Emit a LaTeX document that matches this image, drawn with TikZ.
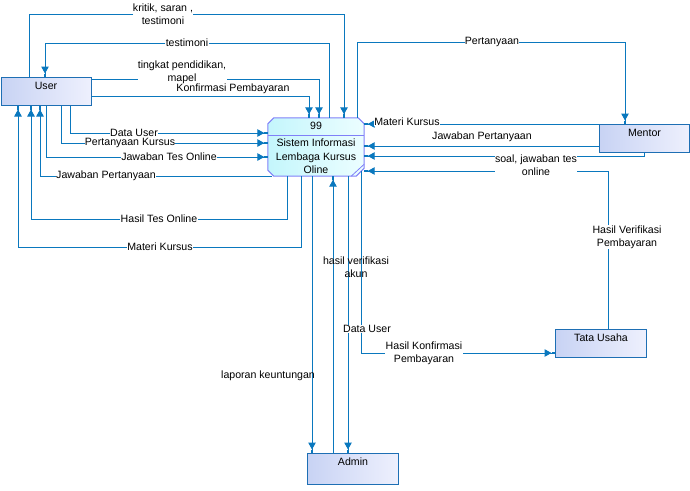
\documentclass[tikz,border=0pt]{standalone}
\usepackage{fontspec}
\setmainfont{Liberation Sans}
\usetikzlibrary{arrows.meta}
\definecolor{lc}{HTML}{0A78BE}
\definecolor{bc}{HTML}{1E6FB4}
\definecolor{ua}{HTML}{C8D3F4}
\definecolor{ub}{HTML}{EEF0FD}
\definecolor{pa}{HTML}{C4F6FC}
\definecolor{pb}{HTML}{ECFEFF}
\definecolor{pbd}{HTML}{8080F8}
\newcommand\lblfont{\fontsize{10.6}{13}\selectfont}
\tikzset{
  flow/.style={draw=lc, line width=1pt,
    -{Triangle[length=7pt,width=7.5pt,sep=0pt]Rectangle[length=3.5pt,width=2.8pt,sep=0pt]}},
  ext/.style={draw=bc, line width=1pt, left color=ua, right color=ub,
    minimum width=90pt, minimum height=28pt, inner sep=0pt, anchor=north west},
  btxt/.style={font=\lblfont, inner sep=0pt, anchor=north, yshift=-5pt},
  lbl/.style={font=\lblfont, text=black, inner sep=0.3pt, align=center},
  lblw/.style={lbl, fill=white},
}
\begin{document}
\begin{tikzpicture}[x=1pt,y=-1pt]
\useasboundingbox (0,0) rectangle (690,490);

% external entities
\node[ext, label={[btxt]north:User}] (user) at (0.5,77) {};
\node[ext, label={[btxt]north:Mentor}] (mentor) at (599,124) {};
\node[ext, minimum width=91pt, label={[btxt]north:Tata Usaha}] (tata) at (555,329) {};
\node[ext, minimum width=91pt, minimum height=31pt, label={[btxt]north:Admin}] (admin) at (307,453) {};

% process
\node[minimum width=96pt, minimum height=58pt, inner sep=0pt] (proc) at (316,147) {};
\shade[left color=pa, right color=pb, draw=pbd, line width=1pt]
  ([xshift=6pt]proc.north west) -- ([xshift=-6pt]proc.north east)
  -- ([yshift=-6pt]proc.north east) -- ([yshift=8pt]proc.south east)
  -- ([xshift=-8pt]proc.south east) -- ([xshift=6pt]proc.south west)
  -- ([yshift=6pt]proc.south west) -- ([yshift=-6pt]proc.north west) -- cycle;
\draw[pbd, line width=0.8pt] ([yshift=12pt]proc.south east) -- ([xshift=-13pt]proc.south east);
\draw[pbd, line width=1pt] (proc.west |- 0,135) -- (proc.east |- 0,135);
\node[lbl] (pnum) at (316,126) {99};
\node[lbl, font=\fontsize{10.6}{13.5}\selectfont] (pname) at (316,156.5) {Sistem Informasi\\Lembaga Kursus\\Oline};

% connectors
\draw[flow] (user.north -| 29,0) -- (29,14) -| (proc.north -| 344,0);
\draw[flow] (proc.north -| 329,0) -- (329,43) -| (user.north -| 45,0);
\draw[flow] (user.east |- 0,79) -| (proc.north -| 319,0);
\draw[flow] (user.east |- 0,96) -| (proc.north -| 309,0);
\draw[flow] (proc.north -| 357,0) -- (357,42) -| (mentor.north -| 625,0);
\draw[flow] (user.south -| 70,0) |- (proc.west |- 0,133);
\draw[flow] (user.south -| 61,0) |- (proc.west |- 0,143);
\draw[flow] (user.south -| 46,0) |- (proc.west |- 0,157);
\draw[flow] ([xshift=4pt]proc.south west) -| (user.south -| 40,0);
\draw[flow] (proc.south -| 287,0) -- (287,219) -| (user.south -| 31,0);
\draw[flow] (proc.south -| 301,0) -- (301,247) -| (user.south -| 18,0);
\draw[flow] (proc.south -| 312,0) -- (admin.north -| 312,0);
\draw[flow] (admin.north -| 333,0) -- (proc.south -| 333,0);
\draw[flow] (proc.south -| 348,0) -- (admin.north -| 348,0);
\draw[flow] ([yshift=5pt]proc.south -| 361,0) |- (tata.west |- 0,353);
\draw[flow] (mentor.north west) -- (proc.east |- mentor.north west);
\draw[flow] (mentor.west |- 0,146) -- (proc.east |- 0,146);
\draw[flow] (mentor.south -| 644,0) |- (proc.east |- 0,156);
\draw[flow] (tata.north -| 608,0) |- (proc.east |- 0,171);

% labels
\node[lblw] (l1) at (163,14.5) {kritik, saran ,\\testimoni};
\node[lblw] (l2) at (187,43) {testimoni};
\node[lblw] (l3) at (182,72) {tingkat pendidikan,\\mapel};
\node[lbl] (l4) at (233,89) {Konfirmasi Pembayaran};
\node[lblw] (l5) at (134,132.5) {Data User};
\node[lblw] (l6) at (130,143) {Pertanyaan Kursus};
\node[lblw] (l7) at (169,157) {Jawaban Tes Online};
\node[lblw] (l8) at (106,176) {Jawaban Pertanyaan};
\node[lblw] (l9) at (159,219) {Hasil Tes Online};
\node[lblw] (l10) at (160,247) {Materi Kursus};
\node[lblw] (l11) at (492,42) {Pertanyaan};
\node[lblw] (l12) at (407,122) {Materi Kursus};
\node[lbl] (l13) at (482,137) {Jawaban Pertanyaan};
\node[lblw] (l14) at (536,165) {soal, jawaban tes\\online};
\node[lblw] (l15) at (627,237) {Hasil Verifikasi\\Pembayaran};
\node[lbl] (l16) at (356,267) {hasil verifikasi\\akun};
\node[lblw] (l17) at (367,329) {Data User};
\node[lblw] (l18) at (424,353) {Hasil Konfirmasi\\Pembayaran};
\node[lbl] (l19) at (268,376) {laporan keuntungan};
\end{tikzpicture}
\end{document}
